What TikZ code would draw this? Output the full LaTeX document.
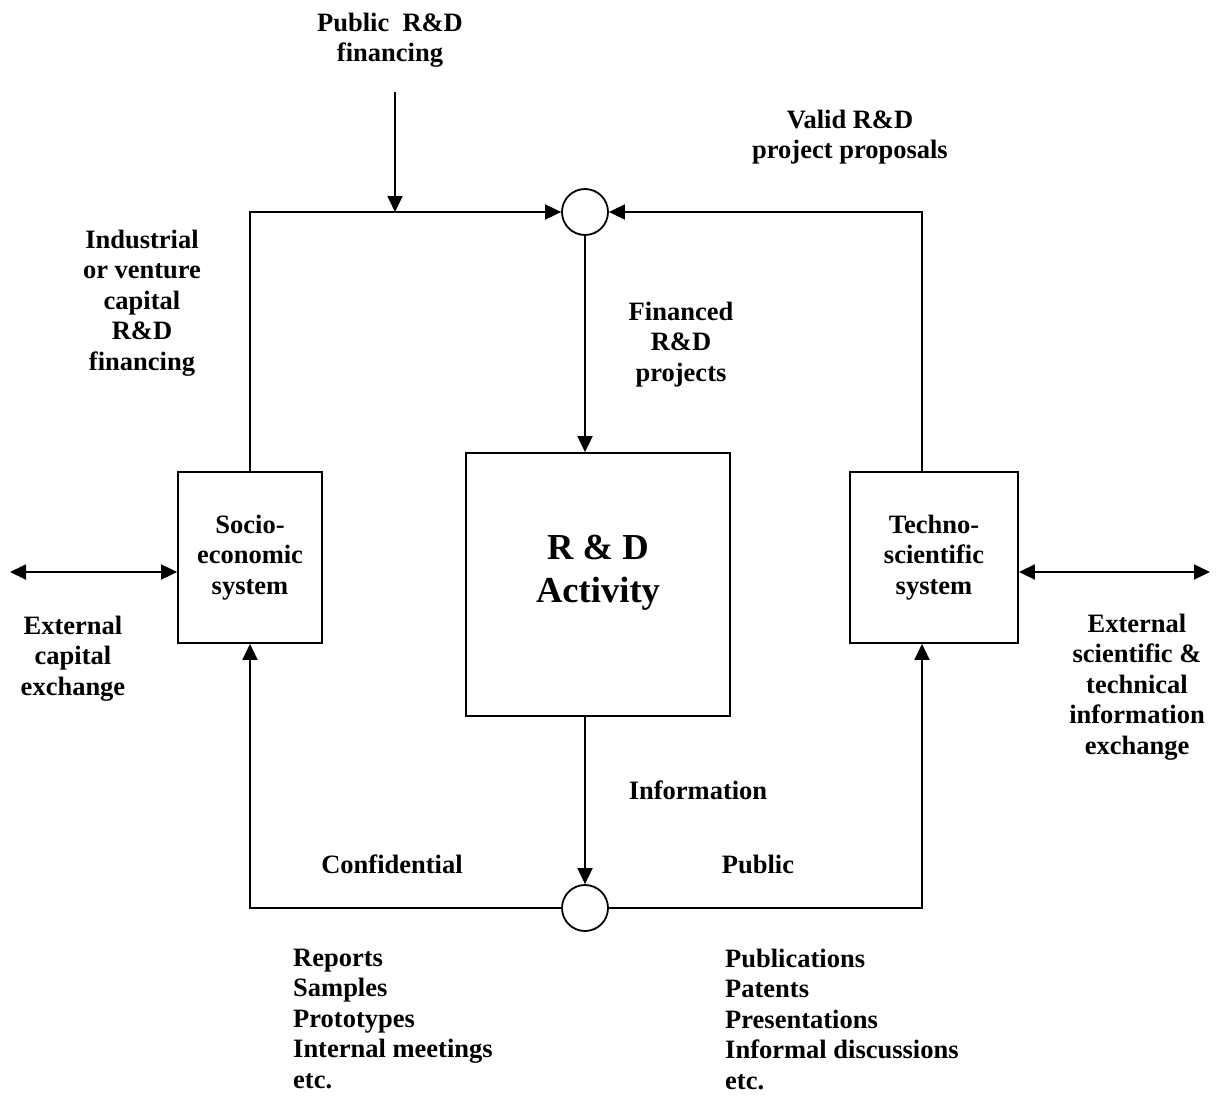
\documentclass[tikz,border=0pt]{standalone}
\usepackage{fontspec}
\setmainfont{Liberation Serif}
\usetikzlibrary{arrows.meta}
\begin{document}
\begin{tikzpicture}[x=1pt,y=-1pt,
  txt/.style={font=\fontsize{26.5}{30.5}\selectfont\bfseries, inner sep=0pt, align=center},
  lst/.style={font=\fontsize{26.5}{30.5}\selectfont\bfseries, inner sep=0pt, align=left, anchor=north west},
  box/.style={draw, line width=1.8pt, inner sep=0pt},
  junction/.style={draw, circle, line width=1.8pt, minimum size=46pt, inner sep=0pt},
  conn/.style={line width=1.8pt},
  arr/.style={conn, -{Triangle[length=16pt,width=15pt]}},
  darr/.style={conn, {Triangle[length=16pt,width=15pt]}-{Triangle[length=16pt,width=15pt]}}]
\useasboundingbox (0,0) rectangle (1218,1095);
% boxes and junctions
\node[box, minimum width=144pt, minimum height=171pt, txt] (socio) at (250,557.5) {Socio-\\economic\\system};
\node[box, minimum width=168pt, minimum height=171pt, txt] (techno) at (934,557.5) {Techno-\\scientific\\system};
\node[box, minimum width=264pt, minimum height=263pt] (rd) at (598,584.5) {};
\node[txt, font=\fontsize{36.6}{43}\selectfont\bfseries, anchor=north] (rdlabel) at (598,534.5) {R \& D\\Activity};
\node[junction] (top) at (585,212) {};
\node[junction] (bot) at (585,908) {};
% helper coordinates
\coordinate (pubstart) at (395,92);
\coordinate (pubin) at (395,212);
\coordinate (lv) at (250,0);
\coordinate (tv) at (922,0);
\coordinate (rdv) at (585,0);
\coordinate (lend) at (10,572);
\coordinate (rend) at (1210,572);
% connectors
\draw[arr] (socio.north) |- (top.west);
\draw[arr] (pubstart) -- (pubin);
\draw[arr] (techno.north -| tv) |- (top.east);
\draw[arr] (top.south) -- (rd.north -| rdv);
\draw[arr] (rd.south -| rdv) -- (bot.north);
\draw[arr] (bot.west) -| (socio.south);
\draw[arr] (bot.east) -| (techno.south -| tv);
\draw[darr] (lend) -- (socio.west |- lend);
\draw[darr] (techno.east |- rend) -- (rend);
% labels
\node[txt, anchor=north] (lpub) at (390,12.5) {Public\ \ R\&D\\financing};
\node[txt, anchor=north] (lvalid) at (850,109.5) {Valid R\&D\\project proposals};
\node[txt, anchor=north] (lind) at (142,229.5) {Industrial\\or venture\\capital\\R\&D\\financing};
\node[txt, anchor=north] (lfin) at (681,301.5) {Financed\\R\&D\\projects};
\node[txt, anchor=north] (lextc) at (73,615.5) {External\\capital\\exchange};
\node[txt, anchor=north] (lexts) at (1137,613.5) {External\\scientific \&\\technical\\information\\exchange};
\node[txt, anchor=north] (linfo) at (698,780.5) {Information};
\node[txt, anchor=north] (lconf) at (392,854.5) {Confidential};
\node[txt, anchor=north] (lpublic) at (758,854.5) {Public};
\node[lst] (llist) at (293,948.5) {Reports\\Samples\\Prototypes\\Internal meetings\\etc.};
\node[lst] (rlist) at (725,948.5) {Publications\\Patents\\Presentations\\Informal discussions\\etc.};
\end{tikzpicture}
\end{document}
